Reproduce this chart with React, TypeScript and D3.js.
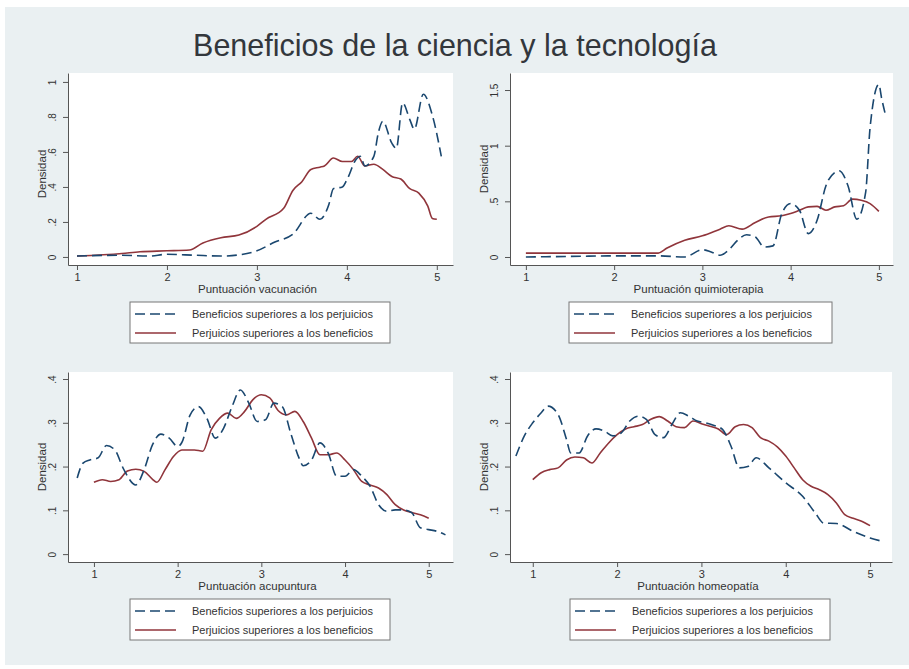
// @ts-nocheck
import React, { useRef, useEffect } from "react";
import * as d3 from "d3";

const TITLE = "Beneficios de la ciencia y la tecnología";
const SERIES_NAMES = ["Beneficios superiores a los perjuicios", "Perjuicios superiores a los beneficios"];
const X_TICKS = [1, 2, 3, 4, 5];

// Vacunación
const vacBeneficios = [
  [1.0, 0.005], [1.5, 0.01], [1.8, 0.005], [2.0, 0.015], [2.3, 0.01], [2.6, 0.005], [2.8, 0.012],
  [3.0, 0.035], [3.2, 0.085], [3.4, 0.13], [3.6, 0.25], [3.7, 0.215], [3.8, 0.3], [3.85, 0.39],
  [3.95, 0.4], [4.0, 0.44], [4.1, 0.555], [4.15, 0.575], [4.2, 0.52], [4.3, 0.575], [4.35, 0.71],
  [4.4, 0.775], [4.5, 0.65], [4.55, 0.62], [4.62, 0.88], [4.7, 0.785], [4.75, 0.73], [4.85, 0.93],
  [4.95, 0.81], [5.05, 0.575],
];
const vacPerjuicios = [
  [1.0, 0.005], [1.5, 0.02], [1.7, 0.03], [2.0, 0.035], [2.25, 0.04], [2.4, 0.08], [2.6, 0.11],
  [2.8, 0.125], [3.0, 0.175], [3.1, 0.215], [3.3, 0.28], [3.4, 0.38], [3.5, 0.43], [3.6, 0.5],
  [3.7, 0.513], [3.75, 0.52], [3.85, 0.565], [3.95, 0.545], [4.05, 0.545], [4.12, 0.575], [4.2, 0.52],
  [4.3, 0.53], [4.4, 0.5], [4.5, 0.46], [4.6, 0.445], [4.7, 0.39], [4.8, 0.365], [4.9, 0.29],
  [4.95, 0.22], [5.0, 0.215],
];

// Quimioterapia
const quiBeneficios = [
  [1.0, 0.0], [1.5, 0.005], [2.0, 0.01], [2.5, 0.01], [2.8, 0.0], [3.0, 0.065], [3.1, 0.045],
  [3.2, 0.015], [3.3, 0.065], [3.4, 0.15], [3.5, 0.2], [3.6, 0.18], [3.7, 0.09], [3.8, 0.1],
  [3.9, 0.39], [4.0, 0.48], [4.1, 0.42], [4.2, 0.21], [4.3, 0.33], [4.4, 0.64], [4.5, 0.76],
  [4.55, 0.775], [4.65, 0.64], [4.75, 0.34], [4.85, 0.58], [4.9, 1.16], [5.0, 1.55], [5.03, 1.43],
  [5.08, 1.26],
];
const quiPerjuicios = [
  [1.0, 0.035], [1.5, 0.035], [2.0, 0.035], [2.5, 0.035], [2.6, 0.08], [2.8, 0.15], [3.0, 0.19],
  [3.2, 0.25], [3.3, 0.28], [3.45, 0.25], [3.6, 0.31], [3.75, 0.36], [3.9, 0.37], [4.0, 0.39],
  [4.1, 0.42], [4.2, 0.45], [4.3, 0.455], [4.4, 0.42], [4.5, 0.45], [4.6, 0.46], [4.7, 0.52],
  [4.8, 0.51], [4.9, 0.48], [5.0, 0.41],
];

// Acupuntura
const acuBeneficios = [
  [0.8, 0.174], [0.87, 0.208], [0.95, 0.215], [1.05, 0.22], [1.15, 0.248], [1.25, 0.238],
  [1.35, 0.196], [1.5, 0.158], [1.6, 0.193], [1.7, 0.25], [1.8, 0.274], [1.9, 0.265], [2.0, 0.246],
  [2.05, 0.255], [2.15, 0.318], [2.25, 0.337], [2.35, 0.31], [2.45, 0.265], [2.55, 0.288],
  [2.65, 0.337], [2.75, 0.375], [2.85, 0.345], [2.95, 0.303], [3.05, 0.307], [3.15, 0.345],
  [3.25, 0.337], [3.35, 0.277], [3.45, 0.22], [3.5, 0.202], [3.6, 0.215], [3.7, 0.254], [3.8, 0.23],
  [3.9, 0.178], [4.0, 0.178], [4.1, 0.193], [4.2, 0.178], [4.3, 0.155], [4.4, 0.113], [4.5, 0.098],
  [4.6, 0.101], [4.7, 0.101], [4.8, 0.094], [4.9, 0.06], [5.0, 0.056], [5.1, 0.052], [5.2, 0.044],
];
const acuPerjuicios = [
  [1.0, 0.164], [1.1, 0.17], [1.2, 0.166], [1.3, 0.17], [1.4, 0.19], [1.5, 0.194], [1.6, 0.189],
  [1.7, 0.171], [1.75, 0.164], [1.85, 0.193], [1.95, 0.223], [2.05, 0.238], [2.2, 0.238],
  [2.3, 0.235], [2.4, 0.284], [2.5, 0.31], [2.6, 0.322], [2.7, 0.31], [2.8, 0.326], [2.9, 0.353],
  [3.0, 0.364], [3.1, 0.357], [3.2, 0.328], [3.3, 0.318], [3.4, 0.326], [3.5, 0.303], [3.6, 0.265],
  [3.7, 0.227], [3.8, 0.227], [3.9, 0.231], [4.0, 0.215], [4.1, 0.193], [4.2, 0.166], [4.3, 0.158],
  [4.4, 0.151], [4.5, 0.136], [4.6, 0.113], [4.7, 0.101], [4.8, 0.095], [4.9, 0.09], [5.0, 0.082],
];

// Homeopatía
const homBeneficios = [
  [0.8, 0.224], [0.9, 0.27], [1.0, 0.3], [1.1, 0.323], [1.18, 0.338], [1.3, 0.319], [1.4, 0.262],
  [1.45, 0.231], [1.55, 0.231], [1.65, 0.27], [1.75, 0.286], [1.85, 0.281], [1.95, 0.27],
  [2.05, 0.277], [2.15, 0.304], [2.25, 0.315], [2.35, 0.307], [2.45, 0.273], [2.55, 0.266],
  [2.65, 0.296], [2.75, 0.323], [2.85, 0.315], [2.95, 0.304], [3.05, 0.3], [3.15, 0.294],
  [3.25, 0.285], [3.35, 0.247], [3.45, 0.197], [3.55, 0.2], [3.65, 0.22], [3.8, 0.197], [4.0, 0.163],
  [4.2, 0.132], [4.35, 0.094], [4.45, 0.071], [4.6, 0.07], [4.8, 0.052], [5.0, 0.037], [5.15, 0.029],
];
const homPerjuicios = [
  [1.0, 0.17], [1.1, 0.186], [1.2, 0.193], [1.3, 0.197], [1.4, 0.215], [1.5, 0.222], [1.6, 0.22],
  [1.7, 0.208], [1.8, 0.231], [1.9, 0.254], [2.0, 0.273], [2.1, 0.286], [2.2, 0.291], [2.3, 0.296],
  [2.4, 0.308], [2.5, 0.314], [2.6, 0.304], [2.7, 0.291], [2.8, 0.289], [2.9, 0.304], [3.0, 0.298],
  [3.1, 0.292], [3.2, 0.286], [3.3, 0.273], [3.4, 0.291], [3.5, 0.296], [3.6, 0.289], [3.7, 0.266],
  [3.8, 0.258], [3.9, 0.245], [4.0, 0.224], [4.1, 0.197], [4.2, 0.17], [4.3, 0.155], [4.4, 0.147],
  [4.5, 0.136], [4.6, 0.117], [4.7, 0.09], [4.8, 0.082], [4.9, 0.075], [5.0, 0.065],
];

const panels = [
  {
    xLabel: "Puntuación vacunación", ben: vacBeneficios, per: vacPerjuicios,
    box: [68, 453, 73, 265], xDomain: [0.9, 5.18], yDomain: [-0.046, 1.051],
    yTicks: [0, 0.2, 0.4, 0.6, 0.8, 1], legend: [130, 390], dens: 5,
  },
  {
    xLabel: "Puntuación quimioterapia", ben: quiBeneficios, per: quiPerjuicios,
    box: [510, 893, 73, 265], xDomain: [0.82, 5.16], yDomain: [-0.072, 1.653],
    yTicks: [0, 0.5, 1, 1.5], legend: [569, 832], dens: 0,
  },
  {
    xLabel: "Puntuación acupuntura", ben: acuBeneficios, per: acuPerjuicios,
    box: [68, 453, 372, 562], xDomain: [0.69, 5.29], yDomain: [-0.018, 0.416],
    yTicks: [0, 0.1, 0.2, 0.3, 0.4], legend: [130, 390], dens: 0,
  },
  {
    xLabel: "Puntuación homeopatía", ben: homBeneficios, per: homPerjuicios,
    box: [510, 892, 372, 562], xDomain: [0.73, 5.26], yDomain: [-0.018, 0.416],
    yTicks: [0, 0.1, 0.2, 0.3, 0.4], legend: [570, 830], dens: 0,
  },
];

const NAVY = "#1a476f";
const MAROON = "#90353b";
const DASH = "10,5";
const fmt = (v) => (v === 0 ? "0" : String(v).replace(/^0\./, "."));

const App = () => {
  const svgRef = useRef(null);

  useEffect(() => {
    const svg = d3.select(svgRef.current);
    svg.selectAll("*").remove();

    svg.append("rect").attr("x", 5).attr("y", 7).attr("width", 904).attr("height", 658).attr("fill", "#eaf0f2");

    svg.append("text")
      .attr("x", 455).attr("y", 56)
      .attr("text-anchor", "middle")
      .attr("font-size", 30.5)
      .attr("fill", "#33373c")
      .text(TITLE);

    panels.forEach((p) => {
      const [l, r, t, b] = p.box;
      const x = d3.scaleLinear().domain(p.xDomain).range([l, r]);
      const y = d3.scaleLinear().domain(p.yDomain).range([b, t]);
      const g = svg.append("g");

      g.append("rect").attr("x", l).attr("y", t).attr("width", r - l).attr("height", b - t).attr("fill", "#fff");

      // x axis
      g.append("g")
        .attr("transform", `translate(0,${b})`)
        .call(d3.axisBottom(x).tickValues(X_TICKS).tickSize(5).tickSizeOuter(0).tickPadding(3).tickFormat(d3.format("d")))
        .call((a) => a.select(".domain").attr("stroke", "#555"))
        .call((a) => a.selectAll(".tick line").attr("stroke", "#555"))
        .call((a) => a.selectAll("text").attr("font-size", 11).attr("fill", "#333").attr("font-family", "Liberation Sans, Arial, sans-serif"));

      // y axis
      const ya = g.append("g")
        .attr("transform", `translate(${l},0)`)
        .call(d3.axisLeft(y).tickValues(p.yTicks).tickSize(5).tickSizeOuter(0).tickFormat(fmt))
        .call((a) => a.select(".domain").attr("stroke", "#555"))
        .call((a) => a.selectAll(".tick line").attr("stroke", "#555"));
      ya.selectAll(".tick text")
        .attr("x", null).attr("dy", null)
        .attr("transform", "translate(-12,0) rotate(-90)")
        .attr("text-anchor", "middle")
        .attr("font-size", 10)
        .attr("fill", "#333")
        .attr("font-family", "Liberation Sans, Arial, sans-serif");

      g.append("text")
        .attr("transform", `translate(${l - 22},${(t + b) / 2 + p.dens}) rotate(-90)`)
        .attr("text-anchor", "middle")
        .attr("font-size", 11.5)
        .attr("fill", "#333")
        .text("Densidad");

      g.append("text")
        .attr("x", (l + r) / 2 - 3).attr("y", b + 28)
        .attr("text-anchor", "middle")
        .attr("font-size", 11.5)
        .attr("fill", "#333")
        .text(p.xLabel);

      const line = d3.line().x((d) => x(d[0])).y((d) => y(d[1])).curve(d3.curveMonotoneX);
      g.append("path").datum(p.per).attr("d", line).attr("fill", "none")
        .attr("stroke", MAROON).attr("stroke-width", 1.6);
      g.append("path").datum(p.ben).attr("d", line).attr("fill", "none")
        .attr("stroke", NAVY).attr("stroke-width", 1.6).attr("stroke-dasharray", DASH);

      // legend
      const [ll, lr] = p.legend;
      const lt = b + 37;
      const lg = g.append("g");
      lg.append("rect").attr("x", ll).attr("y", lt).attr("width", lr - ll).attr("height", 41)
        .attr("fill", "#fff").attr("stroke", "#777").attr("stroke-width", 1);
      SERIES_NAMES.forEach((name, i) => {
        const yy = lt + 12 + i * 19;
        lg.append("line").attr("x1", ll + 5).attr("x2", ll + 46).attr("y1", yy).attr("y2", yy)
          .attr("stroke", i === 0 ? NAVY : MAROON).attr("stroke-width", 1.6)
          .attr("stroke-dasharray", i === 0 ? DASH : null);
        lg.append("text").attr("x", ll + 62).attr("y", yy + 4)
          .attr("font-size", 11).attr("fill", "#333").text(name);
      });
    });
  }, []);

  return (
    <svg
      ref={svgRef}
      width={909}
      height={669}
      style={{ position: "absolute", left: 0, top: 0, fontFamily: "Liberation Sans, Arial, sans-serif", background: "#fff" }}
    />
  );
};

export default App;
